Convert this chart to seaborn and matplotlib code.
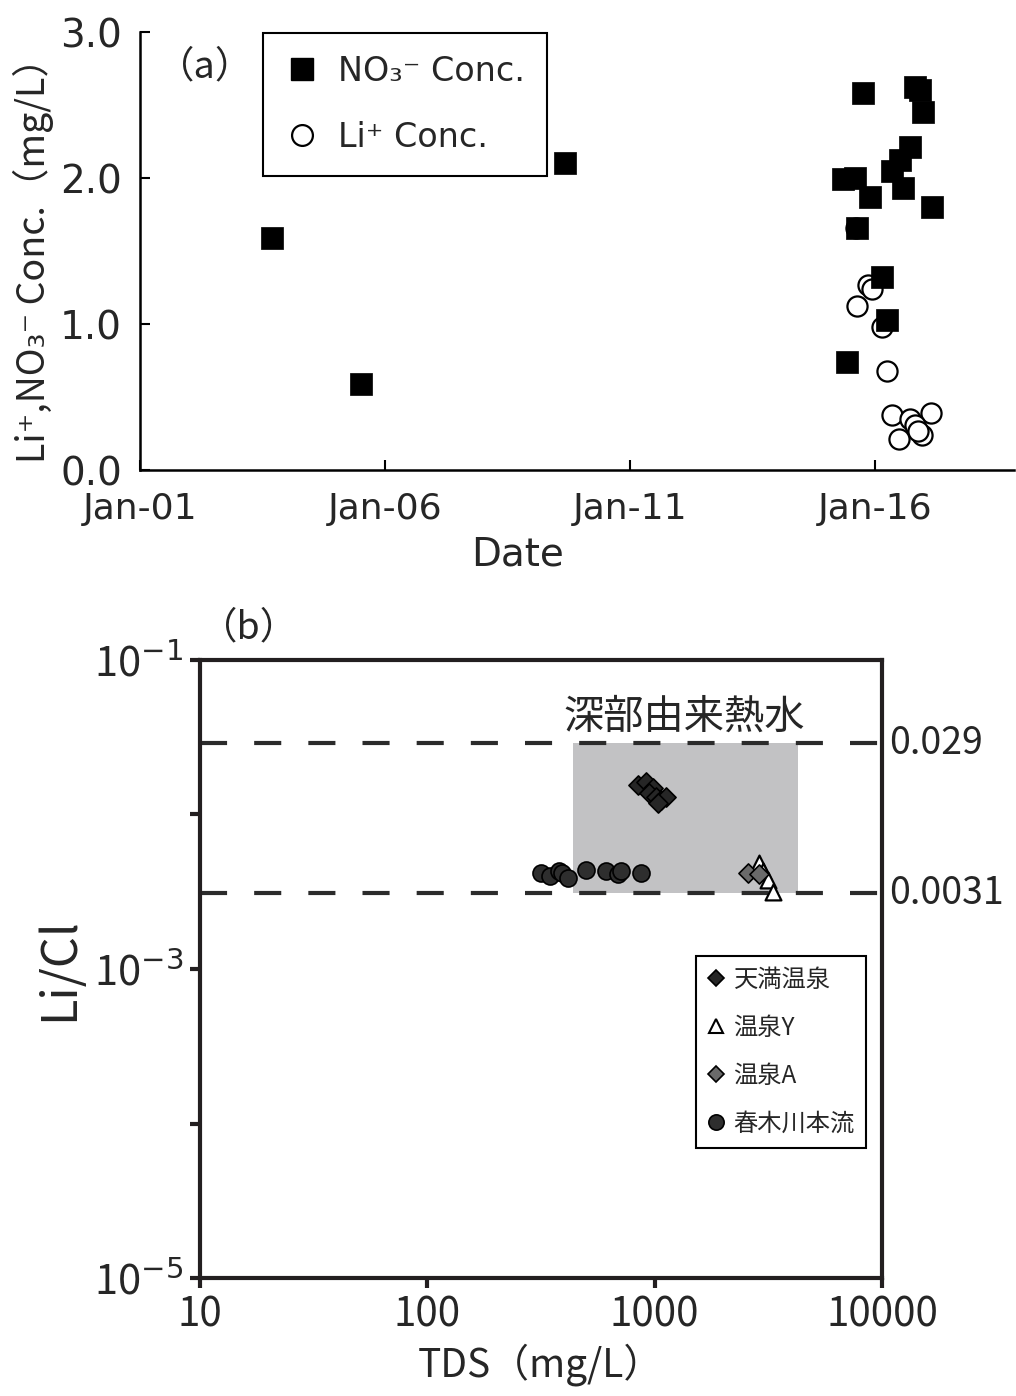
import numpy as np
import pandas as pd
import matplotlib
matplotlib.use("Agg")
import matplotlib.pyplot as plt
import matplotlib.transforms as mtransforms
from matplotlib.lines import Line2D
import seaborn as sns

# ---------------- Panel (a) data ----------------
no3_dates = ["2003-09-10", "2005-07-05", "2009-09-01",
             "2015-10-05", "2016-10-27", "2016-12-01", "2016-12-25",
             "2016-09-15", "2016-07-05", "2016-05-08", "2015-05-08",
             "2015-08-03", "2015-11-25", "2016-07-27", "2017-02-28",
             "2015-08-18", "2016-02-20", "2016-03-28", "2015-06-05"]
no3_conc = [1.59, 0.59, 2.10,
            2.58, 2.62, 2.60, 2.45,
            2.21, 2.12, 2.05, 1.99,
            2.00, 1.87, 1.93, 1.80,
            1.66, 1.32, 1.03, 0.74]

li_dates = ["2015-08-10", "2015-11-10", "2015-12-08", "2015-08-18",
            "2016-02-20", "2016-03-28", "2016-05-08", "2016-09-15",
            "2017-02-20", "2016-06-28", "2016-12-16", "2016-10-27",
            "2016-11-17"]
li_conc = [1.66, 1.27, 1.24, 1.12,
           0.98, 0.68, 0.38, 0.35,
           0.39, 0.21, 0.24, 0.31,
           0.27]

a_xticks = ["2001-01-01", "2006-01-01", "2011-01-01", "2016-01-01"]
a_xticklabels = ["Jan-01", "Jan-06", "Jan-11", "Jan-16"]
a_yticks = [0, 1, 2, 3]
a_yticklabels = ["0.0", "1.0", "2.0", "3.0"]

# ---------------- Panel (b) data ----------------
tenma_tds = [841, 912, 980, 942, 1010, 1062, 1117, 1030]
tenma_ratio = [0.0155, 0.0162, 0.0149, 0.0138, 0.0130, 0.0124, 0.0130, 0.0119]

onsenY_tds = [2870, 3000, 3145, 3315]
onsenY_ratio = [0.00485, 0.0043, 0.00377, 0.00315]

onsenA_tds = [2570, 2870]
onsenA_ratio = [0.0042, 0.0041]

haruki_tds = [315, 348, 378, 393, 414, 497, 608, 687, 708, 867]
haruki_ratio = [0.0042, 0.0040, 0.0043, 0.0042, 0.0039, 0.0044, 0.0043, 0.0041, 0.0043, 0.0042]

deep_tds = [436, 4270]
deep_low = 0.0031
deep_high = 0.029

b_xticks = [10, 100, 1000, 10000]
b_xticklabels = ["10", "100", "1000", "10000"]
b_yticks = [1e-5, 1e-4, 1e-3, 1e-2, 1e-1]
b_yticklabels = ["10$^{-5}$", "", "10$^{-3}$", "", "10$^{-1}$"]

# ---------------- style ----------------
sns.set_theme(style="ticks")
plt.rcParams["font.family"] = ["Noto Sans CJK JP", "DejaVu Sans"]
plt.rcParams["mathtext.fontset"] = "dejavusans"
LAT = ["DejaVu Sans", "Noto Sans CJK JP"]

fig = plt.figure(figsize=(10.16, 13.96), dpi=100)
W, H = 1016, 1396


def rect(l, t, r, b):
    return [l / W, 1 - b / H, (r - l) / W, (b - t) / H]


# ================= Panel (a) =================
ax1 = fig.add_axes(rect(140, 32, 1014, 470))
df_li = pd.DataFrame({"date": pd.to_datetime(li_dates), "conc": li_conc})
df_no3 = pd.DataFrame({"date": pd.to_datetime(no3_dates), "conc": no3_conc})

sns.scatterplot(data=df_li, x="date", y="conc", marker="o", s=210,
                color="white", edgecolor="black", linewidth=1.6,
                legend=False, ax=ax1, zorder=3)
sns.scatterplot(data=df_no3, x="date", y="conc", marker="s", s=250,
                color="black", edgecolor="black", linewidth=0.5,
                legend=False, ax=ax1, zorder=4)

ax1.set_xlim(pd.Timestamp("2001-01-01"), pd.Timestamp("2018-11-01"))
ax1.set_ylim(0, 3.0)
ax1.set_xticks(pd.to_datetime(a_xticks))
ax1.set_xticklabels(a_xticklabels, family=LAT, fontsize=26)
ax1.set_yticks(a_yticks)
ax1.set_yticklabels(a_yticklabels, family=LAT, fontsize=28)
ax1.tick_params(axis="both", direction="in", length=7, width=1.5, color="black")
ax1.tick_params(axis="x", pad=16)
ax1.tick_params(axis="y", pad=13)
for s in ["top", "right"]:
    ax1.spines[s].set_visible(False)
for s in ["left", "bottom"]:
    ax1.spines[s].set_linewidth(1.8)
    ax1.spines[s].set_color("black")

ax1.set_xlabel("Date", family=LAT, fontsize=28)
ax1.xaxis.set_label_coords(0.432, -0.15)
ax1.set_ylabel("Li⁺,NO₃⁻ Conc.（mg/L）", fontsize=27)
ax1.yaxis.set_label_coords(-0.098, 0.5)

ax1.text(0.02, 0.92, "（a）", transform=ax1.transAxes, fontsize=27,
         ha="left", va="center")

h_no3 = Line2D([], [], marker="s", ls="none", markersize=16,
               mfc="black", mec="black")
h_li = Line2D([], [], marker="o", ls="none", markersize=15,
              mfc="white", mec="black", mew=1.6)
leg1 = ax1.legend([h_no3, h_li], ["NO₃⁻ Conc.", "Li⁺ Conc."],
                  loc="upper left", bbox_to_anchor=(0.141, 0.998),
                  frameon=True, fancybox=False, edgecolor="black",
                  framealpha=1, prop={"family": LAT, "size": 24},
                  labelspacing=1.0, handlelength=1.0, handletextpad=0.6,
                  borderpad=0.65, borderaxespad=0)
leg1.get_frame().set_linewidth(1.5)

# ================= Panel (b) =================
ax2 = fig.add_axes(rect(200, 660, 882, 1278))
ax2.set_xscale("log")
ax2.set_yscale("log")

ax2.fill_between(deep_tds, deep_low, deep_high, color="#c2c2c4",
                 linewidth=0, zorder=1)
for v in (deep_high, deep_low):
    ax2.axhline(v, color="#2b2b2b", linewidth=3, linestyle=(0, (6.5, 6.5)),
                zorder=2)

sns.scatterplot(x=haruki_tds, y=haruki_ratio, marker="o", s=150,
                color="#2e2e2e", edgecolor="black", linewidth=1.2,
                legend=False, ax=ax2, zorder=3)
sns.scatterplot(x=tenma_tds, y=tenma_ratio, marker="D", s=95,
                color="#262626", edgecolor="black", linewidth=1.2,
                legend=False, ax=ax2, zorder=4)
sns.scatterplot(x=onsenY_tds, y=onsenY_ratio, marker="^", s=130,
                color="white", edgecolor="black", linewidth=1.6,
                legend=False, ax=ax2, zorder=4)
sns.scatterplot(x=onsenA_tds, y=onsenA_ratio, marker="D", s=95,
                color="#6a6a6a", edgecolor="black", linewidth=1.2,
                legend=False, ax=ax2, zorder=5)

ax2.set_xlim(10, 10000)
ax2.set_ylim(1e-5, 1e-1)
ax2.set_xticks(b_xticks)
ax2.set_xticklabels(b_xticklabels, fontsize=29)
ax2.set_yticks(b_yticks)
ax2.set_yticklabels(b_yticklabels, fontsize=30)
ax2.minorticks_off()
ax2.tick_params(axis="both", direction="out", length=7, width=3,
                color="#231f20", pad=5)
for s in ax2.spines.values():
    s.set_linewidth(3)
    s.set_color("#231f20")

ax2.set_xlabel("TDS（mg/L）", fontsize=28)
ax2.xaxis.set_label_coords(0.4985, -0.105)
ax2.set_ylabel("Li/Cl", fontsize=35)
ax2.yaxis.set_label_coords(-0.17, 0.5)

ax2.text(0.0, 1.052, "（b）", transform=ax2.transAxes, fontsize=27,
         ha="left", va="center")
ax2.text(1343, 0.0428, "深部由来熱水", fontsize=29,
         ha="center", va="center")

tr = mtransforms.blended_transform_factory(ax2.transAxes, ax2.transData)
ax2.text(1.01, deep_high, "0.029", transform=tr, fontsize=27,
         ha="left", va="center", clip_on=False)
ax2.text(1.01, deep_low, "0.0031", transform=tr, fontsize=27,
         ha="left", va="center", clip_on=False)

hb = [Line2D([], [], marker="D", ls="none", markersize=8, mfc="#262626",
             mec="black", mew=1.2),
      Line2D([], [], marker="^", ls="none", markersize=10, mfc="white",
             mec="black", mew=1.5),
      Line2D([], [], marker="D", ls="none", markersize=8, mfc="#6a6a6a",
             mec="black", mew=1.2),
      Line2D([], [], marker="o", ls="none", markersize=11, mfc="#2e2e2e",
             mec="black", mew=1.2)]
leg2 = ax2.legend(hb, ["天満温泉", "温泉Y", "温泉A", "春木川本流"],
                  loc="upper left", bbox_to_anchor=(0.727, 0.521),
                  frameon=True, fancybox=False, edgecolor="black",
                  framealpha=1, prop={"size": 17.5},
                  labelspacing=0.9, handlelength=0.8, handletextpad=0.3,
                  borderpad=0.45, borderaxespad=0)
leg2.get_frame().set_linewidth(1.5)

fig.savefig("out.png", dpi=100, facecolor="white")
